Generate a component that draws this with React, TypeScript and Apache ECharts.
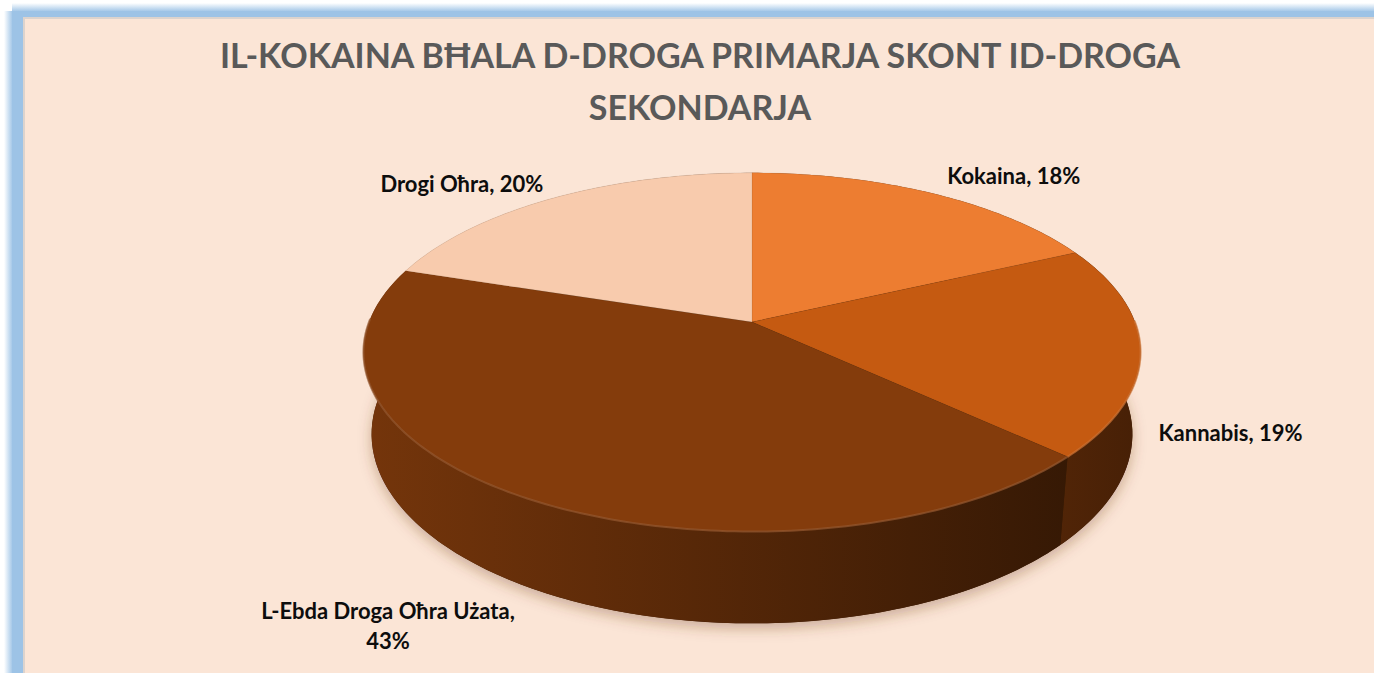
import React, { useEffect, useRef } from 'react';
import * as echarts from 'echarts';

// ---- data ----
const categories = ['Kokaina', 'Kannabis', 'L-Ebda Droga Oħra Użata', 'Drogi Oħra'];
const values = [18, 19, 43, 20];
const colors = ['#ED7D31', '#C55A11', '#843C0C', '#F8CBAD'];
const titleText = 'IL-KOKAINA BĦALA D-DROGA PRIMARJA SKONT ID-DROGA\nSEKONDARJA';

// ---- layout (3D projection of the pie) ----
const CX = 752;
const CY = 322;
const RAD = 0.189; // pie radius relative to camera distance
const F = 383 / RAD;
const SIN_A = 0.455;
const COS_A = Math.sqrt(1 - SIN_A * SIN_A);
const DEPTH = 0.0458;
const LABEL_OFFSETS = [
  [82, -18],
  [90, 83],
  [-136, 128],
  [-92, -14],
];
const FONT = 'Lato, "Open Sans", "DejaVu Sans", sans-serif';

function project(theta: number, r: number, y: number): number[] {
  const X = RAD * r * Math.sin(theta);
  const Z = RAD * r * Math.cos(theta);
  const v = Z * SIN_A + y * COS_A;
  const w = 1 + Z * COS_A - y * SIN_A;
  return [CX + (F * X) / w, CY - (F * v) / w];
}

function hexToRgb(h: string): number[] {
  const n = parseInt(h.slice(1), 16);
  return [(n >> 16) & 255, (n >> 8) & 255, n & 255];
}
function shade(h: string, f: number): string {
  const [r, g, b] = hexToRgb(h);
  return `rgb(${Math.round(r * f)},${Math.round(g * f)},${Math.round(b * f)})`;
}
function lighten(h: string, t: number): string {
  const [r, g, b] = hexToRgb(h);
  return `rgb(${Math.round(r + (255 - r) * t)},${Math.round(g + (255 - g) * t)},${Math.round(b + (255 - b) * t)})`;
}

export default function App() {
  const ref = useRef<HTMLDivElement>(null);
  useEffect(() => {
    if (!ref.current) return;
    document.documentElement.style.overflow = 'hidden';
    document.body.style.overflow = 'hidden';
    document.body.style.margin = '0';
    const chart = echarts.init(ref.current, undefined, { renderer: 'svg' });
    const W = chart.getWidth() + 40;
    const HGT = chart.getHeight() + 40;
    const total = values.reduce((a, b) => a + b, 0);
    const seriesData = values.map((v, i) => {
      const start = values.slice(0, i).reduce((a, b) => a + b, 0);
      return { name: categories[i], value: [start, start + v, v] };
    });
    const xL = CX - F * RAD;
    const xR = CX + F * RAD;

    const option: any = {
      animation: false,
      backgroundColor: '#ffffff',
      graphic: [
        {
          type: 'rect',
          shape: { x: 4, y: 11, width: 8, height: HGT },
          style: {
            fill: new echarts.graphic.LinearGradient(0, 0, 1, 0, [
              { offset: 0, color: 'rgba(157,195,230,0)' },
              { offset: 1, color: 'rgba(157,195,230,0.9)' },
            ]),
          },
          z: -10,
        },
        {
          type: 'rect',
          shape: { x: 12, y: 3, width: W, height: 8 },
          style: {
            fill: new echarts.graphic.LinearGradient(0, 0, 0, 1, [
              { offset: 0, color: 'rgba(157,195,230,0)' },
              { offset: 1, color: 'rgba(157,195,230,0.9)' },
            ]),
          },
          z: -10,
        },
        {
          type: 'rect',
          shape: { x: 12, y: 11, width: W, height: HGT },
          style: { fill: '#9DC3E6' },
          z: -10,
        },
        {
          type: 'rect',
          shape: { x: 23, y: 17, width: W, height: HGT },
          style: { fill: '#DCD3CD' },
          z: -9,
        },
        {
          type: 'rect',
          shape: { x: 25, y: 19, width: W, height: HGT },
          style: { fill: '#FBE5D6' },
          z: -8,
        },
        {
          type: 'text',
          x: 700,
          y: 80,
          style: {
            text: titleText,
            fill: '#595959',
            font: `bold 34px ${FONT}`,
            align: 'center',
            verticalAlign: 'middle',
            lineHeight: 52,
          },
          z: -7,
        },
      ],
      series: [
        {
          type: 'custom',
          coordinateSystem: 'none',
          data: seriesData,
          renderItem: (params: any, api: any) => {
            const i = params.dataIndex;
            const s = api.value(0) as number;
            const e = api.value(1) as number;
            const v = api.value(2) as number;
            const a0 = (s / total) * Math.PI * 2;
            const a1 = (e / total) * Math.PI * 2;
            const base = colors[i];
            const n = Math.max(6, Math.ceil(((a1 - a0) * 180) / Math.PI));
            const top: number[][] = [];
            const bot: number[][] = [];
            const rim: number[][] = [];
            for (let k = 0; k <= n; k++) {
              const th = a0 + ((a1 - a0) * k) / n;
              const p = project(th, 1, 0);
              top.push(p);
              bot.push(project(th, 1, -DEPTH));
              if (Math.cos(th) < 0.02) rim.push(p);
            }
            const children: any[] = [];
            if (i === 0) {
              const ell: number[][] = [];
              for (let k = 0; k < 360; k += 2) ell.push(project((k * Math.PI) / 180, 1, -DEPTH));
              children.push({
                type: 'polygon',
                shape: { points: ell },
                style: {
                  fill: '#3a1a06',
                  shadowBlur: 14,
                  shadowOffsetY: 5,
                  shadowColor: 'rgba(110,60,25,0.35)',
                },
                z2: 0,
              });
            }
            children.push({
              type: 'polygon',
              shape: { points: top.concat(bot.slice().reverse()) },
              style: {
                fill: new echarts.graphic.LinearGradient(
                  xL, 0, xR, 0,
                  [
                    { offset: 0, color: shade(base, 0.88) },
                    { offset: 1, color: shade(base, 0.36) },
                  ],
                  true
                ),
              },
              z2: 1,
            });
            children.push({
              type: 'polygon',
              shape: { points: [project(0, 0, 0)].concat(top) },
              style: { fill: base, stroke: 'rgba(90,60,40,0.2)', lineWidth: 0.5 },
              z2: 10,
            });
            if (rim.length > 1) {
              children.push({
                type: 'polyline',
                shape: { points: rim },
                style: { stroke: lighten(base, 0.15), lineWidth: 2, fill: null, opacity: 0.7 },
                z2: 11,
              });
            }
            const mid = (a0 + a1) / 2;
            const mp = project(mid, 1, 0);
            const off = LABEL_OFFSETS[i];
            const name = categories[i];
            const txt = name.length > 16 ? `${name},\n${v}%` : `${name}, ${v}%`;
            children.push({
              type: 'text',
              x: mp[0] + off[0],
              y: mp[1] + off[1],
              style: {
                text: txt,
                fill: '#0d0d0d',
                font: `bold 22px ${FONT}`,
                align: 'center',
                verticalAlign: 'middle',
                lineHeight: 30,
              },
              z2: 20,
            });
            return { type: 'group', children };
          },
        },
      ],
    };
    chart.setOption(option);
    return () => chart.dispose();
  }, []);
  return (
    <div
      ref={ref}
      style={{ position: 'fixed', left: 0, top: 0, width: '100vw', height: '100vh', background: '#FBE5D6' }}
    />
  );
}
